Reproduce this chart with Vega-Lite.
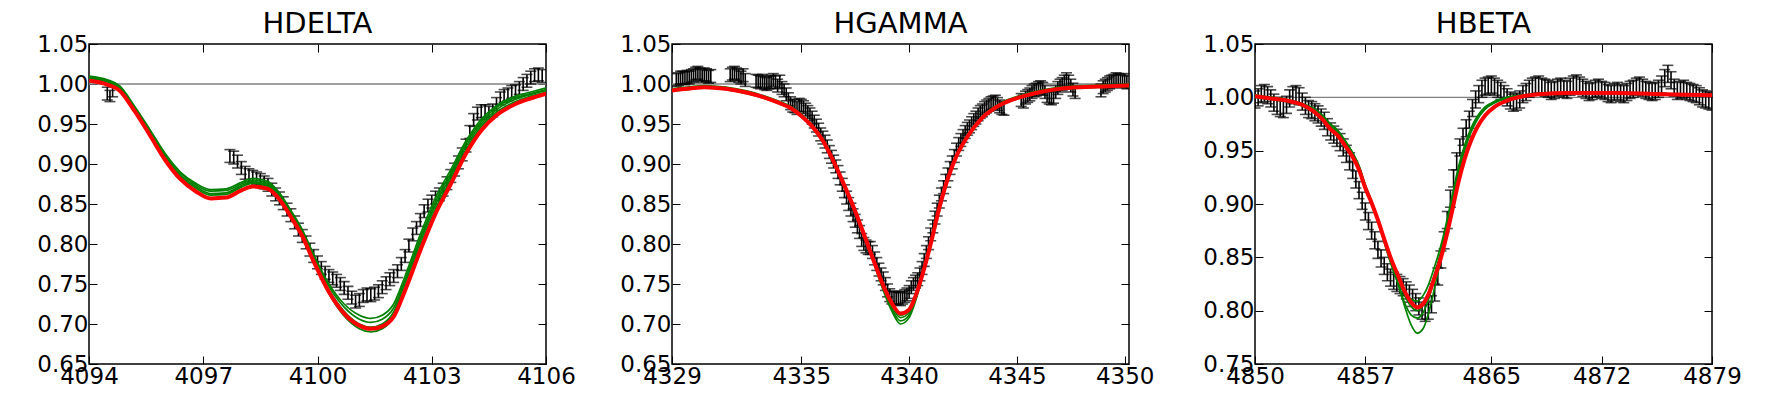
{
  "$schema": "https://vega.github.io/schema/vega-lite/v6.json",
  "padding": {"left": 27, "top": 9, "right": 5, "bottom": 5},
  "bounds": "flush",
  "spacing": 126,
  "datasets": {
    "pts": [
      {"p":"D","x":4094.48,"y":0.988,"e":0.008},{"p":"D","x":4094.55,"y":0.985,"e":0.007},{"p":"D","x":4094.62,"y":0.991,"e":0.007},
      {"p":"D","x":4097.7,"y":0.910,"e":0.008},{"p":"D","x":4097.8,"y":0.908,"e":0.008},{"p":"D","x":4097.9,"y":0.903,"e":0.008},
      {"p":"D","x":4098.0,"y":0.895,"e":0.008},{"p":"D","x":4098.1,"y":0.889,"e":0.008},{"p":"D","x":4098.2,"y":0.886,"e":0.008},
      {"p":"D","x":4098.3,"y":0.884,"e":0.008},{"p":"D","x":4098.4,"y":0.882,"e":0.008},{"p":"D","x":4098.5,"y":0.880,"e":0.008},
      {"p":"D","x":4098.6,"y":0.877,"e":0.008},{"p":"D","x":4098.7,"y":0.874,"e":0.008},{"p":"D","x":4098.8,"y":0.868,"e":0.008},
      {"p":"D","x":4098.9,"y":0.862,"e":0.008},{"p":"D","x":4099.0,"y":0.857,"e":0.008},{"p":"D","x":4099.1,"y":0.851,"e":0.008},
      {"p":"D","x":4099.2,"y":0.843,"e":0.008},{"p":"D","x":4099.3,"y":0.836,"e":0.008},{"p":"D","x":4099.4,"y":0.827,"e":0.008},
      {"p":"D","x":4099.5,"y":0.818,"e":0.008},{"p":"D","x":4099.6,"y":0.810,"e":0.008},{"p":"D","x":4099.7,"y":0.802,"e":0.008},
      {"p":"D","x":4099.8,"y":0.793,"e":0.008},{"p":"D","x":4099.9,"y":0.785,"e":0.008},{"p":"D","x":4100.0,"y":0.777,"e":0.008},
      {"p":"D","x":4100.1,"y":0.770,"e":0.008},{"p":"D","x":4100.2,"y":0.764,"e":0.008},{"p":"D","x":4100.3,"y":0.760,"e":0.008},
      {"p":"D","x":4100.4,"y":0.757,"e":0.008},{"p":"D","x":4100.5,"y":0.754,"e":0.008},{"p":"D","x":4100.6,"y":0.750,"e":0.008},
      {"p":"D","x":4100.7,"y":0.745,"e":0.008},{"p":"D","x":4100.8,"y":0.739,"e":0.008},{"p":"D","x":4100.9,"y":0.733,"e":0.008},
      {"p":"D","x":4101.0,"y":0.728,"e":0.008},{"p":"D","x":4101.1,"y":0.730,"e":0.008},{"p":"D","x":4101.2,"y":0.735,"e":0.008},
      {"p":"D","x":4101.3,"y":0.737,"e":0.008},{"p":"D","x":4101.4,"y":0.736,"e":0.008},{"p":"D","x":4101.5,"y":0.738,"e":0.008},
      {"p":"D","x":4101.6,"y":0.741,"e":0.008},{"p":"D","x":4101.7,"y":0.746,"e":0.008},{"p":"D","x":4101.8,"y":0.751,"e":0.008},
      {"p":"D","x":4101.9,"y":0.756,"e":0.008},{"p":"D","x":4102.0,"y":0.760,"e":0.008},{"p":"D","x":4102.1,"y":0.766,"e":0.008},
      {"p":"D","x":4102.2,"y":0.775,"e":0.008},{"p":"D","x":4102.3,"y":0.785,"e":0.008},{"p":"D","x":4102.4,"y":0.798,"e":0.008},
      {"p":"D","x":4102.5,"y":0.812,"e":0.008},{"p":"D","x":4102.6,"y":0.820,"e":0.008},{"p":"D","x":4102.7,"y":0.830,"e":0.008},
      {"p":"D","x":4102.8,"y":0.841,"e":0.008},{"p":"D","x":4102.9,"y":0.848,"e":0.008},{"p":"D","x":4103.0,"y":0.853,"e":0.008},
      {"p":"D","x":4103.1,"y":0.858,"e":0.008},{"p":"D","x":4103.2,"y":0.862,"e":0.008},{"p":"D","x":4103.3,"y":0.868,"e":0.008},
      {"p":"D","x":4103.4,"y":0.876,"e":0.008},{"p":"D","x":4103.5,"y":0.885,"e":0.008},{"p":"D","x":4103.6,"y":0.893,"e":0.008},
      {"p":"D","x":4103.7,"y":0.902,"e":0.008},{"p":"D","x":4103.8,"y":0.912,"e":0.008},{"p":"D","x":4103.9,"y":0.923,"e":0.008},
      {"p":"D","x":4104.0,"y":0.940,"e":0.008},{"p":"D","x":4104.1,"y":0.955,"e":0.008},{"p":"D","x":4104.2,"y":0.963,"e":0.008},
      {"p":"D","x":4104.3,"y":0.966,"e":0.008},{"p":"D","x":4104.4,"y":0.966,"e":0.008},{"p":"D","x":4104.5,"y":0.964,"e":0.008},
      {"p":"D","x":4104.6,"y":0.967,"e":0.008},{"p":"D","x":4104.7,"y":0.975,"e":0.008},{"p":"D","x":4104.8,"y":0.982,"e":0.008},
      {"p":"D","x":4104.9,"y":0.985,"e":0.008},{"p":"D","x":4105.0,"y":0.987,"e":0.008},{"p":"D","x":4105.1,"y":0.990,"e":0.008},
      {"p":"D","x":4105.2,"y":0.991,"e":0.008},{"p":"D","x":4105.3,"y":0.995,"e":0.008},{"p":"D","x":4105.4,"y":1.000,"e":0.008},
      {"p":"D","x":4105.5,"y":1.004,"e":0.008},{"p":"D","x":4105.6,"y":1.008,"e":0.008},{"p":"D","x":4105.7,"y":1.011,"e":0.008},
      {"p":"D","x":4105.8,"y":1.012,"e":0.008},{"p":"D","x":4105.9,"y":1.010,"e":0.008},

      {"p":"G","x":4329.2,"y":1.005,"e":0.008},{"p":"G","x":4329.3,"y":1.006,"e":0.008},{"p":"G","x":4329.4,"y":1.008,"e":0.008},
      {"p":"G","x":4329.5,"y":1.008,"e":0.008},{"p":"G","x":4329.6,"y":1.007,"e":0.008},{"p":"G","x":4329.7,"y":1.009,"e":0.008},
      {"p":"G","x":4329.8,"y":1.008,"e":0.008},{"p":"G","x":4329.9,"y":1.010,"e":0.008},{"p":"G","x":4330.0,"y":1.011,"e":0.008},
      {"p":"G","x":4330.1,"y":1.013,"e":0.008},{"p":"G","x":4330.2,"y":1.014,"e":0.008},{"p":"G","x":4330.3,"y":1.012,"e":0.008},
      {"p":"G","x":4330.4,"y":1.010,"e":0.008},{"p":"G","x":4330.5,"y":1.012,"e":0.008},{"p":"G","x":4330.6,"y":1.011,"e":0.008},
      {"p":"G","x":4330.7,"y":1.009,"e":0.008},{"p":"G","x":4330.8,"y":1.010,"e":0.008},
      {"p":"G","x":4331.7,"y":1.011,"e":0.008},{"p":"G","x":4331.8,"y":1.013,"e":0.008},{"p":"G","x":4331.9,"y":1.014,"e":0.008},
      {"p":"G","x":4332.0,"y":1.012,"e":0.008},{"p":"G","x":4332.1,"y":1.010,"e":0.008},{"p":"G","x":4332.2,"y":1.008,"e":0.008},
      {"p":"G","x":4332.3,"y":1.011,"e":0.008},{"p":"G","x":4332.4,"y":1.005,"e":0.008},
      {"p":"G","x":4332.9,"y":1.004,"e":0.008},{"p":"G","x":4333.0,"y":1.003,"e":0.008},{"p":"G","x":4333.1,"y":1.002,"e":0.008},
      {"p":"G","x":4333.2,"y":1.004,"e":0.008},{"p":"G","x":4333.3,"y":1.001,"e":0.008},{"p":"G","x":4333.4,"y":1.000,"e":0.008},
      {"p":"G","x":4333.5,"y":1.002,"e":0.008},{"p":"G","x":4333.6,"y":1.003,"e":0.008},{"p":"G","x":4333.7,"y":1.005,"e":0.008},
      {"p":"G","x":4333.8,"y":1.002,"e":0.008},{"p":"G","x":4333.9,"y":0.998,"e":0.008},{"p":"G","x":4334.0,"y":1.003,"e":0.008},
      {"p":"G","x":4334.1,"y":0.995,"e":0.008},{"p":"G","x":4334.2,"y":0.992,"e":0.008},{"p":"G","x":4334.3,"y":0.987,"e":0.008},
      {"p":"G","x":4334.4,"y":0.981,"e":0.008},{"p":"G","x":4334.5,"y":0.976,"e":0.008},{"p":"G","x":4334.6,"y":0.973,"e":0.008},
      {"p":"G","x":4334.7,"y":0.972,"e":0.008},{"p":"G","x":4334.8,"y":0.970,"e":0.008},{"p":"G","x":4334.9,"y":0.974,"e":0.008},
      {"p":"G","x":4335.0,"y":0.973,"e":0.008},{"p":"G","x":4335.1,"y":0.971,"e":0.008},{"p":"G","x":4335.2,"y":0.968,"e":0.008},
      {"p":"G","x":4335.3,"y":0.965,"e":0.008},{"p":"G","x":4335.4,"y":0.962,"e":0.008},{"p":"G","x":4335.5,"y":0.958,"e":0.008},
      {"p":"G","x":4335.6,"y":0.953,"e":0.008},{"p":"G","x":4335.7,"y":0.948,"e":0.008},{"p":"G","x":4335.8,"y":0.943,"e":0.008},
      {"p":"G","x":4335.9,"y":0.937,"e":0.008},{"p":"G","x":4336.0,"y":0.933,"e":0.008},{"p":"G","x":4336.1,"y":0.928,"e":0.008},
      {"p":"G","x":4336.2,"y":0.922,"e":0.008},{"p":"G","x":4336.3,"y":0.915,"e":0.008},{"p":"G","x":4336.4,"y":0.909,"e":0.008},
      {"p":"G","x":4336.5,"y":0.903,"e":0.008},{"p":"G","x":4336.6,"y":0.897,"e":0.008},{"p":"G","x":4336.7,"y":0.890,"e":0.008},
      {"p":"G","x":4336.8,"y":0.882,"e":0.008},{"p":"G","x":4336.9,"y":0.874,"e":0.008},{"p":"G","x":4337.0,"y":0.866,"e":0.008},
      {"p":"G","x":4337.1,"y":0.858,"e":0.008},{"p":"G","x":4337.2,"y":0.850,"e":0.008},{"p":"G","x":4337.3,"y":0.843,"e":0.008},
      {"p":"G","x":4337.4,"y":0.836,"e":0.008},{"p":"G","x":4337.5,"y":0.829,"e":0.008},{"p":"G","x":4337.6,"y":0.822,"e":0.008},
      {"p":"G","x":4337.7,"y":0.815,"e":0.008},{"p":"G","x":4337.8,"y":0.805,"e":0.008},{"p":"G","x":4337.9,"y":0.800,"e":0.008},
      {"p":"G","x":4338.0,"y":0.797,"e":0.008},{"p":"G","x":4338.1,"y":0.795,"e":0.008},{"p":"G","x":4338.2,"y":0.795,"e":0.008},
      {"p":"G","x":4338.3,"y":0.790,"e":0.008},{"p":"G","x":4338.4,"y":0.782,"e":0.008},{"p":"G","x":4338.5,"y":0.775,"e":0.008},
      {"p":"G","x":4338.6,"y":0.768,"e":0.008},{"p":"G","x":4338.7,"y":0.762,"e":0.008},{"p":"G","x":4338.8,"y":0.757,"e":0.008},
      {"p":"G","x":4338.9,"y":0.750,"e":0.008},{"p":"G","x":4339.0,"y":0.742,"e":0.008},{"p":"G","x":4339.1,"y":0.736,"e":0.008},
      {"p":"G","x":4339.2,"y":0.733,"e":0.008},{"p":"G","x":4339.3,"y":0.732,"e":0.008},{"p":"G","x":4339.4,"y":0.733,"e":0.008},
      {"p":"G","x":4339.5,"y":0.732,"e":0.008},{"p":"G","x":4339.6,"y":0.731,"e":0.008},{"p":"G","x":4339.7,"y":0.733,"e":0.008},
      {"p":"G","x":4339.8,"y":0.735,"e":0.008},{"p":"G","x":4339.9,"y":0.737,"e":0.008},{"p":"G","x":4340.0,"y":0.740,"e":0.008},
      {"p":"G","x":4340.1,"y":0.746,"e":0.008},{"p":"G","x":4340.2,"y":0.750,"e":0.008},{"p":"G","x":4340.3,"y":0.753,"e":0.008},
      {"p":"G","x":4340.4,"y":0.756,"e":0.008},{"p":"G","x":4340.5,"y":0.762,"e":0.008},{"p":"G","x":4340.6,"y":0.770,"e":0.008},
      {"p":"G","x":4340.7,"y":0.780,"e":0.008},{"p":"G","x":4340.8,"y":0.790,"e":0.008},{"p":"G","x":4340.9,"y":0.801,"e":0.008},
      {"p":"G","x":4341.0,"y":0.812,"e":0.008},{"p":"G","x":4341.1,"y":0.822,"e":0.008},{"p":"G","x":4341.2,"y":0.833,"e":0.008},
      {"p":"G","x":4341.3,"y":0.843,"e":0.008},{"p":"G","x":4341.4,"y":0.853,"e":0.008},{"p":"G","x":4341.5,"y":0.862,"e":0.008},
      {"p":"G","x":4341.6,"y":0.871,"e":0.008},{"p":"G","x":4341.7,"y":0.879,"e":0.008},{"p":"G","x":4341.8,"y":0.887,"e":0.008},
      {"p":"G","x":4341.9,"y":0.895,"e":0.008},{"p":"G","x":4342.0,"y":0.902,"e":0.008},{"p":"G","x":4342.1,"y":0.910,"e":0.008},
      {"p":"G","x":4342.2,"y":0.918,"e":0.008},{"p":"G","x":4342.3,"y":0.925,"e":0.008},{"p":"G","x":4342.4,"y":0.930,"e":0.008},
      {"p":"G","x":4342.5,"y":0.935,"e":0.008},{"p":"G","x":4342.6,"y":0.940,"e":0.008},{"p":"G","x":4342.7,"y":0.944,"e":0.008},
      {"p":"G","x":4342.8,"y":0.947,"e":0.008},{"p":"G","x":4342.9,"y":0.951,"e":0.008},{"p":"G","x":4343.0,"y":0.955,"e":0.008},
      {"p":"G","x":4343.1,"y":0.958,"e":0.008},{"p":"G","x":4343.2,"y":0.962,"e":0.008},{"p":"G","x":4343.3,"y":0.965,"e":0.008},
      {"p":"G","x":4343.4,"y":0.967,"e":0.008},{"p":"G","x":4343.5,"y":0.970,"e":0.008},{"p":"G","x":4343.6,"y":0.972,"e":0.008},
      {"p":"G","x":4343.7,"y":0.974,"e":0.008},{"p":"G","x":4343.8,"y":0.976,"e":0.008},{"p":"G","x":4343.9,"y":0.977,"e":0.008},
      {"p":"G","x":4344.0,"y":0.978,"e":0.008},{"p":"G","x":4344.1,"y":0.975,"e":0.008},{"p":"G","x":4344.2,"y":0.972,"e":0.008},
      {"p":"G","x":4344.3,"y":0.970,"e":0.008},{"p":"G","x":4344.4,"y":0.969,"e":0.008},
      {"p":"G","x":4345.2,"y":0.980,"e":0.008},{"p":"G","x":4345.3,"y":0.978,"e":0.008},{"p":"G","x":4345.4,"y":0.983,"e":0.008},
      {"p":"G","x":4345.5,"y":0.985,"e":0.008},{"p":"G","x":4345.6,"y":0.987,"e":0.008},{"p":"G","x":4345.7,"y":0.990,"e":0.008},
      {"p":"G","x":4345.8,"y":0.992,"e":0.008},{"p":"G","x":4345.9,"y":0.993,"e":0.008},{"p":"G","x":4346.0,"y":0.995,"e":0.008},
      {"p":"G","x":4346.1,"y":0.996,"e":0.008},{"p":"G","x":4346.2,"y":0.994,"e":0.008},{"p":"G","x":4346.3,"y":0.990,"e":0.008},
      {"p":"G","x":4346.4,"y":0.985,"e":0.008},{"p":"G","x":4346.5,"y":0.983,"e":0.008},{"p":"G","x":4346.6,"y":0.982,"e":0.008},
      {"p":"G","x":4346.7,"y":0.984,"e":0.008},{"p":"G","x":4346.8,"y":0.990,"e":0.008},{"p":"G","x":4346.9,"y":0.995,"e":0.008},
      {"p":"G","x":4347.0,"y":0.998,"e":0.008},{"p":"G","x":4347.1,"y":1.000,"e":0.008},{"p":"G","x":4347.2,"y":1.003,"e":0.008},
      {"p":"G","x":4347.3,"y":1.006,"e":0.008},{"p":"G","x":4347.4,"y":1.003,"e":0.008},{"p":"G","x":4347.5,"y":0.998,"e":0.008},
      {"p":"G","x":4347.6,"y":0.993,"e":0.008},{"p":"G","x":4347.7,"y":0.990,"e":0.008},
      {"p":"G","x":4348.9,"y":0.992,"e":0.008},{"p":"G","x":4349.0,"y":0.996,"e":0.008},{"p":"G","x":4349.1,"y":0.998,"e":0.008},
      {"p":"G","x":4349.2,"y":1.000,"e":0.008},{"p":"G","x":4349.3,"y":1.002,"e":0.008},{"p":"G","x":4349.4,"y":1.003,"e":0.008},
      {"p":"G","x":4349.5,"y":1.004,"e":0.008},{"p":"G","x":4349.6,"y":1.006,"e":0.008},{"p":"G","x":4349.7,"y":1.005,"e":0.008},
      {"p":"G","x":4349.8,"y":1.004,"e":0.008},{"p":"G","x":4349.9,"y":1.003,"e":0.008},{"p":"G","x":4350.0,"y":1.005,"e":0.008},
      {"p":"G","x":4350.1,"y":1.002,"e":0.008},

      {"p":"B","x":4850.0,"y":0.998,"e":0.008},{"p":"B","x":4850.2,"y":1.000,"e":0.008},{"p":"B","x":4850.4,"y":1.003,"e":0.008},
      {"p":"B","x":4850.6,"y":1.004,"e":0.008},{"p":"B","x":4850.8,"y":1.002,"e":0.008},{"p":"B","x":4851.0,"y":0.999,"e":0.008},
      {"p":"B","x":4851.2,"y":0.995,"e":0.008},{"p":"B","x":4851.4,"y":0.992,"e":0.008},{"p":"B","x":4851.6,"y":0.990,"e":0.008},
      {"p":"B","x":4851.8,"y":0.989,"e":0.008},{"p":"B","x":4852.0,"y":0.993,"e":0.008},{"p":"B","x":4852.2,"y":0.999,"e":0.008},
      {"p":"B","x":4852.4,"y":1.002,"e":0.008},{"p":"B","x":4852.6,"y":1.003,"e":0.008},{"p":"B","x":4852.8,"y":1.001,"e":0.008},
      {"p":"B","x":4853.0,"y":0.996,"e":0.008},{"p":"B","x":4853.2,"y":0.992,"e":0.008},{"p":"B","x":4853.4,"y":0.989,"e":0.008},
      {"p":"B","x":4853.6,"y":0.988,"e":0.008},{"p":"B","x":4853.8,"y":0.986,"e":0.008},{"p":"B","x":4854.0,"y":0.984,"e":0.008},
      {"p":"B","x":4854.2,"y":0.981,"e":0.008},{"p":"B","x":4854.4,"y":0.978,"e":0.008},{"p":"B","x":4854.6,"y":0.972,"e":0.008},
      {"p":"B","x":4854.8,"y":0.968,"e":0.008},{"p":"B","x":4855.0,"y":0.965,"e":0.008},{"p":"B","x":4855.2,"y":0.962,"e":0.008},
      {"p":"B","x":4855.4,"y":0.958,"e":0.008},{"p":"B","x":4855.6,"y":0.953,"e":0.008},{"p":"B","x":4855.8,"y":0.947,"e":0.008},
      {"p":"B","x":4856.0,"y":0.940,"e":0.008},{"p":"B","x":4856.2,"y":0.932,"e":0.008},{"p":"B","x":4856.4,"y":0.923,"e":0.008},
      {"p":"B","x":4856.6,"y":0.913,"e":0.008},{"p":"B","x":4856.8,"y":0.903,"e":0.008},{"p":"B","x":4857.0,"y":0.893,"e":0.008},
      {"p":"B","x":4857.2,"y":0.884,"e":0.008},{"p":"B","x":4857.4,"y":0.875,"e":0.008},{"p":"B","x":4857.6,"y":0.866,"e":0.008},
      {"p":"B","x":4857.8,"y":0.857,"e":0.008},{"p":"B","x":4858.0,"y":0.849,"e":0.008},{"p":"B","x":4858.2,"y":0.842,"e":0.008},
      {"p":"B","x":4858.4,"y":0.836,"e":0.008},{"p":"B","x":4858.6,"y":0.831,"e":0.008},{"p":"B","x":4858.8,"y":0.828,"e":0.008},
      {"p":"B","x":4859.0,"y":0.826,"e":0.008},{"p":"B","x":4859.2,"y":0.824,"e":0.008},{"p":"B","x":4859.4,"y":0.822,"e":0.008},
      {"p":"B","x":4859.6,"y":0.819,"e":0.008},{"p":"B","x":4859.8,"y":0.816,"e":0.008},{"p":"B","x":4860.0,"y":0.812,"e":0.008},
      {"p":"B","x":4860.2,"y":0.808,"e":0.008},{"p":"B","x":4860.4,"y":0.804,"e":0.008},{"p":"B","x":4860.6,"y":0.800,"e":0.008},
      {"p":"B","x":4860.8,"y":0.798,"e":0.008},{"p":"B","x":4861.0,"y":0.800,"e":0.008},{"p":"B","x":4861.2,"y":0.806,"e":0.008},
      {"p":"B","x":4861.4,"y":0.817,"e":0.008},{"p":"B","x":4861.6,"y":0.832,"e":0.008},{"p":"B","x":4861.8,"y":0.848,"e":0.008},
      {"p":"B","x":4862.0,"y":0.866,"e":0.008},{"p":"B","x":4862.2,"y":0.885,"e":0.008},{"p":"B","x":4862.4,"y":0.905,"e":0.008},
      {"p":"B","x":4862.6,"y":0.924,"e":0.008},{"p":"B","x":4862.8,"y":0.940,"e":0.008},{"p":"B","x":4863.0,"y":0.953,"e":0.008},
      {"p":"B","x":4863.2,"y":0.963,"e":0.008},{"p":"B","x":4863.4,"y":0.971,"e":0.008},{"p":"B","x":4863.6,"y":0.979,"e":0.008},
      {"p":"B","x":4863.8,"y":0.990,"e":0.008},{"p":"B","x":4864.0,"y":0.998,"e":0.008},{"p":"B","x":4864.2,"y":1.003,"e":0.008},
      {"p":"B","x":4864.4,"y":1.008,"e":0.008},{"p":"B","x":4864.6,"y":1.010,"e":0.008},{"p":"B","x":4864.8,"y":1.011,"e":0.008},
      {"p":"B","x":4865.0,"y":1.012,"e":0.008},{"p":"B","x":4865.2,"y":1.010,"e":0.008},{"p":"B","x":4865.4,"y":1.008,"e":0.008},
      {"p":"B","x":4865.6,"y":1.006,"e":0.008},{"p":"B","x":4865.8,"y":1.003,"e":0.008},{"p":"B","x":4866.0,"y":1.000,"e":0.008},
      {"p":"B","x":4866.2,"y":0.997,"e":0.008},{"p":"B","x":4866.4,"y":0.995,"e":0.008},{"p":"B","x":4866.6,"y":0.996,"e":0.008},
      {"p":"B","x":4866.8,"y":0.998,"e":0.008},{"p":"B","x":4867.0,"y":1.003,"e":0.008},{"p":"B","x":4867.2,"y":1.005,"e":0.008},
      {"p":"B","x":4867.4,"y":1.008,"e":0.008},{"p":"B","x":4867.6,"y":1.010,"e":0.008},{"p":"B","x":4867.8,"y":1.011,"e":0.008},
      {"p":"B","x":4868.0,"y":1.012,"e":0.008},{"p":"B","x":4868.2,"y":1.010,"e":0.008},{"p":"B","x":4868.4,"y":1.009,"e":0.008},
      {"p":"B","x":4868.6,"y":1.008,"e":0.008},{"p":"B","x":4868.8,"y":1.006,"e":0.008},{"p":"B","x":4869.0,"y":1.007,"e":0.008},
      {"p":"B","x":4869.2,"y":1.009,"e":0.008},{"p":"B","x":4869.4,"y":1.010,"e":0.008},{"p":"B","x":4869.6,"y":1.008,"e":0.008},
      {"p":"B","x":4869.8,"y":1.007,"e":0.008},{"p":"B","x":4870.0,"y":1.010,"e":0.008},{"p":"B","x":4870.2,"y":1.012,"e":0.008},
      {"p":"B","x":4870.4,"y":1.013,"e":0.008},{"p":"B","x":4870.6,"y":1.011,"e":0.008},{"p":"B","x":4870.8,"y":1.009,"e":0.008},
      {"p":"B","x":4871.0,"y":1.007,"e":0.008},{"p":"B","x":4871.2,"y":1.005,"e":0.008},{"p":"B","x":4871.4,"y":1.006,"e":0.008},
      {"p":"B","x":4871.6,"y":1.008,"e":0.008},{"p":"B","x":4871.8,"y":1.009,"e":0.008},{"p":"B","x":4872.0,"y":1.007,"e":0.008},
      {"p":"B","x":4872.2,"y":1.006,"e":0.008},{"p":"B","x":4872.4,"y":1.004,"e":0.008},{"p":"B","x":4872.6,"y":1.003,"e":0.008},
      {"p":"B","x":4872.8,"y":1.005,"e":0.008},{"p":"B","x":4873.0,"y":1.006,"e":0.008},{"p":"B","x":4873.2,"y":1.004,"e":0.008},
      {"p":"B","x":4873.4,"y":1.003,"e":0.008},{"p":"B","x":4873.6,"y":1.005,"e":0.008},{"p":"B","x":4873.8,"y":1.007,"e":0.008},
      {"p":"B","x":4874.0,"y":1.008,"e":0.008},{"p":"B","x":4874.2,"y":1.010,"e":0.008},{"p":"B","x":4874.4,"y":1.011,"e":0.008},
      {"p":"B","x":4874.6,"y":1.009,"e":0.008},{"p":"B","x":4874.8,"y":1.007,"e":0.008},{"p":"B","x":4875.0,"y":1.006,"e":0.008},
      {"p":"B","x":4875.2,"y":1.005,"e":0.008},{"p":"B","x":4875.4,"y":1.006,"e":0.008},{"p":"B","x":4875.6,"y":1.008,"e":0.008},
      {"p":"B","x":4875.8,"y":1.012,"e":0.008},{"p":"B","x":4876.0,"y":1.018,"e":0.008},{"p":"B","x":4876.2,"y":1.022,"e":0.008},
      {"p":"B","x":4876.4,"y":1.016,"e":0.008},{"p":"B","x":4876.6,"y":1.009,"e":0.008},{"p":"B","x":4876.8,"y":1.006,"e":0.008},
      {"p":"B","x":4877.0,"y":1.007,"e":0.008},{"p":"B","x":4877.2,"y":1.008,"e":0.008},{"p":"B","x":4877.4,"y":1.006,"e":0.008},
      {"p":"B","x":4877.6,"y":1.005,"e":0.008},{"p":"B","x":4877.8,"y":1.004,"e":0.008},{"p":"B","x":4878.0,"y":1.003,"e":0.008},
      {"p":"B","x":4878.2,"y":1.001,"e":0.008},{"p":"B","x":4878.4,"y":0.999,"e":0.008},{"p":"B","x":4878.6,"y":0.998,"e":0.008},
      {"p":"B","x":4878.8,"y":0.997,"e":0.008},{"p":"B","x":4879.0,"y":0.996,"e":0.008}
    ],
    "fit": [
      {"p":"D","x":4094.0,"r":1.004,"g1":1.010,"g2":1.009,"g3":1.008,"g4":1.007},
      {"p":"D","x":4094.5,"r":0.999,"g1":1.005,"g2":1.004,"g3":1.003,"g4":1.002},
      {"p":"D","x":4094.8,"r":0.992,"g1":0.998,"g2":0.997,"g3":0.996,"g4":0.995},
      {"p":"D","x":4095.2,"r":0.966,"g1":0.972,"g2":0.971,"g3":0.970,"g4":0.969},
      {"p":"D","x":4095.6,"r":0.936,"g1":0.943,"g2":0.942,"g3":0.940,"g4":0.939},
      {"p":"D","x":4096.0,"r":0.905,"g1":0.913,"g2":0.912,"g3":0.910,"g4":0.908},
      {"p":"D","x":4096.4,"r":0.881,"g1":0.890,"g2":0.889,"g3":0.886,"g4":0.884},
      {"p":"D","x":4096.8,"r":0.866,"g1":0.876,"g2":0.874,"g3":0.872,"g4":0.870},
      {"p":"D","x":4097.2,"r":0.857,"g1":0.868,"g2":0.866,"g3":0.863,"g4":0.861},
      {"p":"D","x":4097.6,"r":0.858,"g1":0.869,"g2":0.867,"g3":0.864,"g4":0.862},
      {"p":"D","x":4098.0,"r":0.867,"g1":0.877,"g2":0.875,"g3":0.873,"g4":0.871},
      {"p":"D","x":4098.3,"r":0.872,"g1":0.882,"g2":0.880,"g3":0.878,"g4":0.876},
      {"p":"D","x":4098.7,"r":0.869,"g1":0.878,"g2":0.876,"g3":0.874,"g4":0.872},
      {"p":"D","x":4099.0,"r":0.856,"g1":0.864,"g2":0.862,"g3":0.860,"g4":0.858},
      {"p":"D","x":4099.3,"r":0.834,"g1":0.842,"g2":0.840,"g3":0.838,"g4":0.836},
      {"p":"D","x":4099.6,"r":0.810,"g1":0.818,"g2":0.816,"g3":0.814,"g4":0.811},
      {"p":"D","x":4099.9,"r":0.778,"g1":0.787,"g2":0.784,"g3":0.781,"g4":0.778},
      {"p":"D","x":4100.3,"r":0.740,"g1":0.750,"g2":0.747,"g3":0.743,"g4":0.738},
      {"p":"D","x":4100.7,"r":0.713,"g1":0.725,"g2":0.721,"g3":0.716,"g4":0.710},
      {"p":"D","x":4101.1,"r":0.698,"g1":0.711,"g2":0.706,"g3":0.700,"g4":0.694},
      {"p":"D","x":4101.4,"r":0.694,"g1":0.707,"g2":0.702,"g3":0.696,"g4":0.690},
      {"p":"D","x":4101.7,"r":0.697,"g1":0.711,"g2":0.706,"g3":0.700,"g4":0.694},
      {"p":"D","x":4102.0,"r":0.709,"g1":0.725,"g2":0.720,"g3":0.715,"g4":0.709},
      {"p":"D","x":4102.3,"r":0.742,"g1":0.760,"g2":0.755,"g3":0.751,"g4":0.746},
      {"p":"D","x":4102.7,"r":0.792,"g1":0.812,"g2":0.807,"g3":0.803,"g4":0.798},
      {"p":"D","x":4103.1,"r":0.838,"g1":0.858,"g2":0.853,"g3":0.849,"g4":0.844},
      {"p":"D","x":4103.5,"r":0.875,"g1":0.893,"g2":0.889,"g3":0.885,"g4":0.881},
      {"p":"D","x":4103.9,"r":0.913,"g1":0.929,"g2":0.926,"g3":0.922,"g4":0.918},
      {"p":"D","x":4104.3,"r":0.942,"g1":0.956,"g2":0.953,"g3":0.950,"g4":0.947},
      {"p":"D","x":4104.7,"r":0.961,"g1":0.973,"g2":0.971,"g3":0.968,"g4":0.965},
      {"p":"D","x":4105.2,"r":0.975,"g1":0.985,"g2":0.983,"g3":0.981,"g4":0.978},
      {"p":"D","x":4105.6,"r":0.982,"g1":0.990,"g2":0.988,"g3":0.987,"g4":0.985},
      {"p":"D","x":4106.0,"r":0.988,"g1":0.995,"g2":0.993,"g3":0.992,"g4":0.990},

      {"p":"G","x":4329.0,"r":0.992,"g1":0.994,"g2":0.993,"g3":0.991,"g4":0.992},
      {"p":"G","x":4330.0,"r":0.995,"g1":0.997,"g2":0.996,"g3":0.994,"g4":0.995},
      {"p":"G","x":4330.5,"r":0.996,"g1":0.998,"g2":0.997,"g3":0.995,"g4":0.996},
      {"p":"G","x":4331.5,"r":0.994,"g1":0.996,"g2":0.995,"g3":0.993,"g4":0.994},
      {"p":"G","x":4332.5,"r":0.989,"g1":0.991,"g2":0.990,"g3":0.988,"g4":0.989},
      {"p":"G","x":4333.3,"r":0.983,"g1":0.985,"g2":0.984,"g3":0.982,"g4":0.983},
      {"p":"G","x":4334.0,"r":0.976,"g1":0.978,"g2":0.977,"g3":0.975,"g4":0.976},
      {"p":"G","x":4334.5,"r":0.970,"g1":0.972,"g2":0.971,"g3":0.969,"g4":0.970},
      {"p":"G","x":4335.0,"r":0.960,"g1":0.962,"g2":0.961,"g3":0.959,"g4":0.960},
      {"p":"G","x":4335.5,"r":0.947,"g1":0.949,"g2":0.948,"g3":0.946,"g4":0.947},
      {"p":"G","x":4336.0,"r":0.929,"g1":0.931,"g2":0.930,"g3":0.928,"g4":0.929},
      {"p":"G","x":4336.5,"r":0.903,"g1":0.905,"g2":0.904,"g3":0.902,"g4":0.903},
      {"p":"G","x":4337.0,"r":0.873,"g1":0.875,"g2":0.874,"g3":0.872,"g4":0.873},
      {"p":"G","x":4337.5,"r":0.841,"g1":0.843,"g2":0.842,"g3":0.840,"g4":0.841},
      {"p":"G","x":4338.0,"r":0.805,"g1":0.806,"g2":0.805,"g3":0.804,"g4":0.805},
      {"p":"G","x":4338.4,"r":0.776,"g1":0.773,"g2":0.774,"g3":0.775,"g4":0.776},
      {"p":"G","x":4338.8,"r":0.748,"g1":0.742,"g2":0.744,"g3":0.746,"g4":0.748},
      {"p":"G","x":4339.2,"r":0.726,"g1":0.716,"g2":0.719,"g3":0.722,"g4":0.725},
      {"p":"G","x":4339.6,"r":0.713,"g1":0.700,"g2":0.704,"g3":0.708,"g4":0.711},
      {"p":"G","x":4340.0,"r":0.718,"g1":0.708,"g2":0.711,"g3":0.714,"g4":0.717},
      {"p":"G","x":4340.3,"r":0.735,"g1":0.729,"g2":0.731,"g3":0.733,"g4":0.735},
      {"p":"G","x":4340.6,"r":0.760,"g1":0.757,"g2":0.758,"g3":0.759,"g4":0.760},
      {"p":"G","x":4341.0,"r":0.800,"g1":0.801,"g2":0.800,"g3":0.799,"g4":0.800},
      {"p":"G","x":4341.4,"r":0.845,"g1":0.847,"g2":0.846,"g3":0.844,"g4":0.845},
      {"p":"G","x":4341.8,"r":0.882,"g1":0.884,"g2":0.883,"g3":0.881,"g4":0.882},
      {"p":"G","x":4342.2,"r":0.910,"g1":0.912,"g2":0.911,"g3":0.909,"g4":0.910},
      {"p":"G","x":4342.7,"r":0.934,"g1":0.936,"g2":0.935,"g3":0.933,"g4":0.934},
      {"p":"G","x":4343.4,"r":0.958,"g1":0.960,"g2":0.959,"g3":0.957,"g4":0.958},
      {"p":"G","x":4344.3,"r":0.975,"g1":0.977,"g2":0.976,"g3":0.974,"g4":0.975},
      {"p":"G","x":4345.2,"r":0.984,"g1":0.986,"g2":0.985,"g3":0.983,"g4":0.984},
      {"p":"G","x":4346.1,"r":0.990,"g1":0.992,"g2":0.991,"g3":0.989,"g4":0.990},
      {"p":"G","x":4347.0,"r":0.994,"g1":0.996,"g2":0.995,"g3":0.993,"g4":0.994},
      {"p":"G","x":4348.0,"r":0.996,"g1":0.998,"g2":0.997,"g3":0.995,"g4":0.996},
      {"p":"G","x":4349.0,"r":0.997,"g1":0.999,"g2":0.998,"g3":0.996,"g4":0.997},
      {"p":"G","x":4350.2,"r":0.998,"g1":1.000,"g2":0.999,"g3":0.997,"g4":0.998},

      {"p":"B","x":4850.0,"r":1.001,"g1":1.002,"g2":1.001,"g3":1.000,"g4":1.002},
      {"p":"B","x":4851.0,"r":0.999,"g1":1.000,"g2":0.999,"g3":0.998,"g4":1.000},
      {"p":"B","x":4852.0,"r":0.997,"g1":0.998,"g2":0.997,"g3":0.996,"g4":0.998},
      {"p":"B","x":4853.0,"r":0.993,"g1":0.994,"g2":0.993,"g3":0.992,"g4":0.994},
      {"p":"B","x":4853.7,"r":0.987,"g1":0.990,"g2":0.988,"g3":0.987,"g4":0.989},
      {"p":"B","x":4854.3,"r":0.979,"g1":0.983,"g2":0.981,"g3":0.979,"g4":0.982},
      {"p":"B","x":4854.8,"r":0.970,"g1":0.975,"g2":0.973,"g3":0.971,"g4":0.973},
      {"p":"B","x":4855.2,"r":0.965,"g1":0.970,"g2":0.968,"g3":0.966,"g4":0.969},
      {"p":"B","x":4855.7,"r":0.955,"g1":0.960,"g2":0.958,"g3":0.956,"g4":0.959},
      {"p":"B","x":4856.2,"r":0.944,"g1":0.948,"g2":0.947,"g3":0.945,"g4":0.948},
      {"p":"B","x":4856.6,"r":0.932,"g1":0.936,"g2":0.934,"g3":0.933,"g4":0.935},
      {"p":"B","x":4857.0,"r":0.915,"g1":0.918,"g2":0.917,"g3":0.915,"g4":0.917},
      {"p":"B","x":4857.4,"r":0.901,"g1":0.903,"g2":0.902,"g3":0.901,"g4":0.902},
      {"p":"B","x":4857.8,"r":0.885,"g1":0.886,"g2":0.885,"g3":0.884,"g4":0.885},
      {"p":"B","x":4858.2,"r":0.867,"g1":0.867,"g2":0.866,"g3":0.864,"g4":0.865},
      {"p":"B","x":4858.6,"r":0.850,"g1":0.850,"g2":0.848,"g3":0.845,"g4":0.846},
      {"p":"B","x":4859.1,"r":0.832,"g1":0.832,"g2":0.829,"g3":0.824,"g4":0.824},
      {"p":"B","x":4859.5,"r":0.818,"g1":0.819,"g2":0.814,"g3":0.807,"g4":0.804},
      {"p":"B","x":4859.9,"r":0.808,"g1":0.811,"g2":0.804,"g3":0.796,"g4":0.787},
      {"p":"B","x":4860.3,"r":0.803,"g1":0.809,"g2":0.800,"g3":0.793,"g4":0.779},
      {"p":"B","x":4860.7,"r":0.807,"g1":0.815,"g2":0.806,"g3":0.799,"g4":0.784},
      {"p":"B","x":4861.0,"r":0.815,"g1":0.824,"g2":0.816,"g3":0.810,"g4":0.797},
      {"p":"B","x":4861.3,"r":0.827,"g1":0.837,"g2":0.830,"g3":0.825,"g4":0.815},
      {"p":"B","x":4861.6,"r":0.840,"g1":0.851,"g2":0.845,"g3":0.842,"g4":0.835},
      {"p":"B","x":4861.9,"r":0.855,"g1":0.867,"g2":0.862,"g3":0.860,"g4":0.855},
      {"p":"B","x":4862.2,"r":0.873,"g1":0.886,"g2":0.882,"g3":0.880,"g4":0.877},
      {"p":"B","x":4862.5,"r":0.893,"g1":0.907,"g2":0.903,"g3":0.901,"g4":0.899},
      {"p":"B","x":4862.9,"r":0.920,"g1":0.934,"g2":0.931,"g3":0.929,"g4":0.927},
      {"p":"B","x":4863.3,"r":0.942,"g1":0.955,"g2":0.953,"g3":0.951,"g4":0.950},
      {"p":"B","x":4863.7,"r":0.959,"g1":0.971,"g2":0.969,"g3":0.968,"g4":0.967},
      {"p":"B","x":4864.1,"r":0.972,"g1":0.982,"g2":0.981,"g3":0.980,"g4":0.979},
      {"p":"B","x":4864.6,"r":0.983,"g1":0.991,"g2":0.990,"g3":0.989,"g4":0.989},
      {"p":"B","x":4865.2,"r":0.991,"g1":0.996,"g2":0.996,"g3":0.995,"g4":0.995},
      {"p":"B","x":4866.0,"r":0.997,"g1":1.000,"g2":1.000,"g3":0.999,"g4":0.999},
      {"p":"B","x":4867.0,"r":1.001,"g1":1.002,"g2":1.002,"g3":1.002,"g4":1.002},
      {"p":"B","x":4868.0,"r":1.003,"g1":1.003,"g2":1.003,"g3":1.003,"g4":1.003},
      {"p":"B","x":4870.0,"r":1.004,"g1":1.004,"g2":1.004,"g3":1.004,"g4":1.004},
      {"p":"B","x":4873.0,"r":1.004,"g1":1.004,"g2":1.004,"g3":1.004,"g4":1.004},
      {"p":"B","x":4876.0,"r":1.003,"g1":1.003,"g2":1.003,"g3":1.003,"g4":1.003},
      {"p":"B","x":4879.0,"r":1.002,"g1":1.002,"g2":1.002,"g3":1.002,"g4":1.002}
    ],
    "unity": [{"y": 1}]
  },
  "hconcat": [
    {
      "width": 457, "height": 320,
      "title": "HDELTA",
      "resolve": {"axis": {"x": "independent", "y": "independent"}},
      "layer": [
        {
          "data": {"name": "unity"},
          "mark": {"type": "rule", "color": "#808080", "strokeWidth": 1.3},
          "encoding": {
            "y": {"field": "y", "type": "quantitative", "scale": {"domain": [0.65, 1.05], "nice": false, "zero": false},
                  "axis": {"orient": "left", "values": [0.65,0.70,0.75,0.80,0.85,0.90,0.95,1.00,1.05], "format": ".2f", "title": null, "minExtent": 61, "maxExtent": 61}}
          }
        },
        {
          "data": {"name": "pts"},
          "transform": [{"filter": "datum.p == 'D'"}],
          "mark": {"type": "errorbar", "color": "black", "thickness": 1.6, "ticks": {"size": 11, "thickness": 1.6, "color": "black"}, "clip": true},
          "encoding": {
            "x": {"field": "x", "type": "quantitative", "scale": {"domain": [4094, 4106], "nice": false, "zero": false},
                  "axis": {"orient": "bottom", "values": [4094,4097,4100,4103,4106], "format": "d", "title": null}},
            "y": {"field": "y", "type": "quantitative", "scale": {"domain": [0.65, 1.05], "nice": false, "zero": false}, "axis": null},
            "yError": {"field": "e"}
          }
        },
        {
          "data": {"name": "fit"},
          "transform": [{"filter": "datum.p == 'D'"}, {"fold": ["g1","g2","g3","g4"], "as": ["s","v"]}],
          "mark": {"type": "line", "color": "#008000", "strokeWidth": 1.7, "interpolate": "monotone", "clip": true},
          "encoding": {
            "x": {"field": "x", "type": "quantitative", "scale": {"domain": [4094, 4106], "nice": false, "zero": false}, "axis": null},
            "y": {"field": "v", "type": "quantitative", "scale": {"domain": [0.65, 1.05], "nice": false, "zero": false}, "axis": null},
            "detail": {"field": "s"}
          }
        },
        {
          "data": {"name": "fit"},
          "transform": [{"filter": "datum.p == 'D'"}],
          "mark": {"type": "line", "color": "#ff0000", "strokeWidth": 4, "interpolate": "monotone", "clip": true},
          "encoding": {
            "x": {"field": "x", "type": "quantitative", "scale": {"domain": [4094, 4106], "nice": false, "zero": false},
                  "axis": {"orient": "top", "values": [4094,4097,4100,4103,4106], "labels": false, "labelPadding": 0, "minExtent": 0, "maxExtent": 0, "title": null}},
            "y": {"field": "r", "type": "quantitative", "scale": {"domain": [0.65, 1.05], "nice": false, "zero": false},
                  "axis": {"orient": "right", "values": [0.65,0.70,0.75,0.80,0.85,0.90,0.95,1.00,1.05], "labels": false, "labelPadding": 0, "minExtent": 0, "maxExtent": 0, "title": null}}
          }
        }
      ]
    },
    {
      "width": 457, "height": 320,
      "title": "HGAMMA",
      "resolve": {"axis": {"x": "independent", "y": "independent"}},
      "layer": [
        {
          "data": {"name": "unity"},
          "mark": {"type": "rule", "color": "#808080", "strokeWidth": 1.3},
          "encoding": {
            "y": {"field": "y", "type": "quantitative", "scale": {"domain": [0.65, 1.05], "nice": false, "zero": false},
                  "axis": {"orient": "left", "values": [0.65,0.70,0.75,0.80,0.85,0.90,0.95,1.00,1.05], "format": ".2f", "title": null, "minExtent": 61, "maxExtent": 61}}
          }
        },
        {
          "data": {"name": "pts"},
          "transform": [{"filter": "datum.p == 'G'"}],
          "mark": {"type": "errorbar", "color": "black", "thickness": 1.6, "ticks": {"size": 11, "thickness": 1.6, "color": "black"}, "clip": true},
          "encoding": {
            "x": {"field": "x", "type": "quantitative", "scale": {"domain": [4329, 4350.2], "nice": false, "zero": false},
                  "axis": {"orient": "bottom", "values": [4329,4335,4340,4345,4350], "format": "d", "title": null}},
            "y": {"field": "y", "type": "quantitative", "scale": {"domain": [0.65, 1.05], "nice": false, "zero": false}, "axis": null},
            "yError": {"field": "e"}
          }
        },
        {
          "data": {"name": "fit"},
          "transform": [{"filter": "datum.p == 'G'"}, {"fold": ["g1","g2","g3","g4"], "as": ["s","v"]}],
          "mark": {"type": "line", "color": "#008000", "strokeWidth": 1.7, "interpolate": "monotone", "clip": true},
          "encoding": {
            "x": {"field": "x", "type": "quantitative", "scale": {"domain": [4329, 4350.2], "nice": false, "zero": false}, "axis": null},
            "y": {"field": "v", "type": "quantitative", "scale": {"domain": [0.65, 1.05], "nice": false, "zero": false}, "axis": null},
            "detail": {"field": "s"}
          }
        },
        {
          "data": {"name": "fit"},
          "transform": [{"filter": "datum.p == 'G'"}],
          "mark": {"type": "line", "color": "#ff0000", "strokeWidth": 4, "interpolate": "monotone", "clip": true},
          "encoding": {
            "x": {"field": "x", "type": "quantitative", "scale": {"domain": [4329, 4350.2], "nice": false, "zero": false},
                  "axis": {"orient": "top", "values": [4329,4335,4340,4345,4350], "labels": false, "labelPadding": 0, "minExtent": 0, "maxExtent": 0, "title": null}},
            "y": {"field": "r", "type": "quantitative", "scale": {"domain": [0.65, 1.05], "nice": false, "zero": false},
                  "axis": {"orient": "right", "values": [0.65,0.70,0.75,0.80,0.85,0.90,0.95,1.00,1.05], "labels": false, "labelPadding": 0, "minExtent": 0, "maxExtent": 0, "title": null}}
          }
        }
      ]
    },
    {
      "width": 457, "height": 320,
      "title": "HBETA",
      "resolve": {"axis": {"x": "independent", "y": "independent"}},
      "layer": [
        {
          "data": {"name": "unity"},
          "mark": {"type": "rule", "color": "#808080", "strokeWidth": 1.3},
          "encoding": {
            "y": {"field": "y", "type": "quantitative", "scale": {"domain": [0.75, 1.05], "nice": false, "zero": false},
                  "axis": {"orient": "left", "values": [0.75,0.80,0.85,0.90,0.95,1.00,1.05], "format": ".2f", "title": null, "minExtent": 61, "maxExtent": 61}}
          }
        },
        {
          "data": {"name": "pts"},
          "transform": [{"filter": "datum.p == 'B'"}],
          "mark": {"type": "errorbar", "color": "black", "thickness": 1.6, "ticks": {"size": 11, "thickness": 1.6, "color": "black"}, "clip": true},
          "encoding": {
            "x": {"field": "x", "type": "quantitative", "scale": {"domain": [4850, 4879], "nice": false, "zero": false},
                  "axis": {"orient": "bottom", "values": [4850,4857,4865,4872,4879], "format": "d", "title": null}},
            "y": {"field": "y", "type": "quantitative", "scale": {"domain": [0.75, 1.05], "nice": false, "zero": false}, "axis": null},
            "yError": {"field": "e"}
          }
        },
        {
          "data": {"name": "fit"},
          "transform": [{"filter": "datum.p == 'B'"}, {"fold": ["g1","g2","g3","g4"], "as": ["s","v"]}],
          "mark": {"type": "line", "color": "#008000", "strokeWidth": 1.7, "interpolate": "monotone", "clip": true},
          "encoding": {
            "x": {"field": "x", "type": "quantitative", "scale": {"domain": [4850, 4879], "nice": false, "zero": false}, "axis": null},
            "y": {"field": "v", "type": "quantitative", "scale": {"domain": [0.75, 1.05], "nice": false, "zero": false}, "axis": null},
            "detail": {"field": "s"}
          }
        },
        {
          "data": {"name": "fit"},
          "transform": [{"filter": "datum.p == 'B'"}],
          "mark": {"type": "line", "color": "#ff0000", "strokeWidth": 4, "interpolate": "monotone", "clip": true},
          "encoding": {
            "x": {"field": "x", "type": "quantitative", "scale": {"domain": [4850, 4879], "nice": false, "zero": false},
                  "axis": {"orient": "top", "values": [4850,4857,4865,4872,4879], "labels": false, "labelPadding": 0, "minExtent": 0, "maxExtent": 0, "title": null}},
            "y": {"field": "r", "type": "quantitative", "scale": {"domain": [0.75, 1.05], "nice": false, "zero": false},
                  "axis": {"orient": "right", "values": [0.75,0.80,0.85,0.90,0.95,1.00,1.05], "labels": false, "labelPadding": 0, "minExtent": 0, "maxExtent": 0, "title": null}}
          }
        }
      ]
    }
  ],
  "config": {
    "view": {"stroke": "black", "strokeWidth": 1.5},
    "axis": {
      "domain": false, "grid": false,
      "tickSize": -8, "tickColor": "black", "tickWidth": 1,
      "labelFont": "DejaVu Sans", "labelFontSize": 23, "labelColor": "black",
      "labelPadding": 9, "labelFlush": false, "labelOverlap": false, "labelBound": false
    },
    "title": {"font": "DejaVu Sans", "fontSize": 29, "fontWeight": "normal", "color": "black", "offset": -6}
  }
}
